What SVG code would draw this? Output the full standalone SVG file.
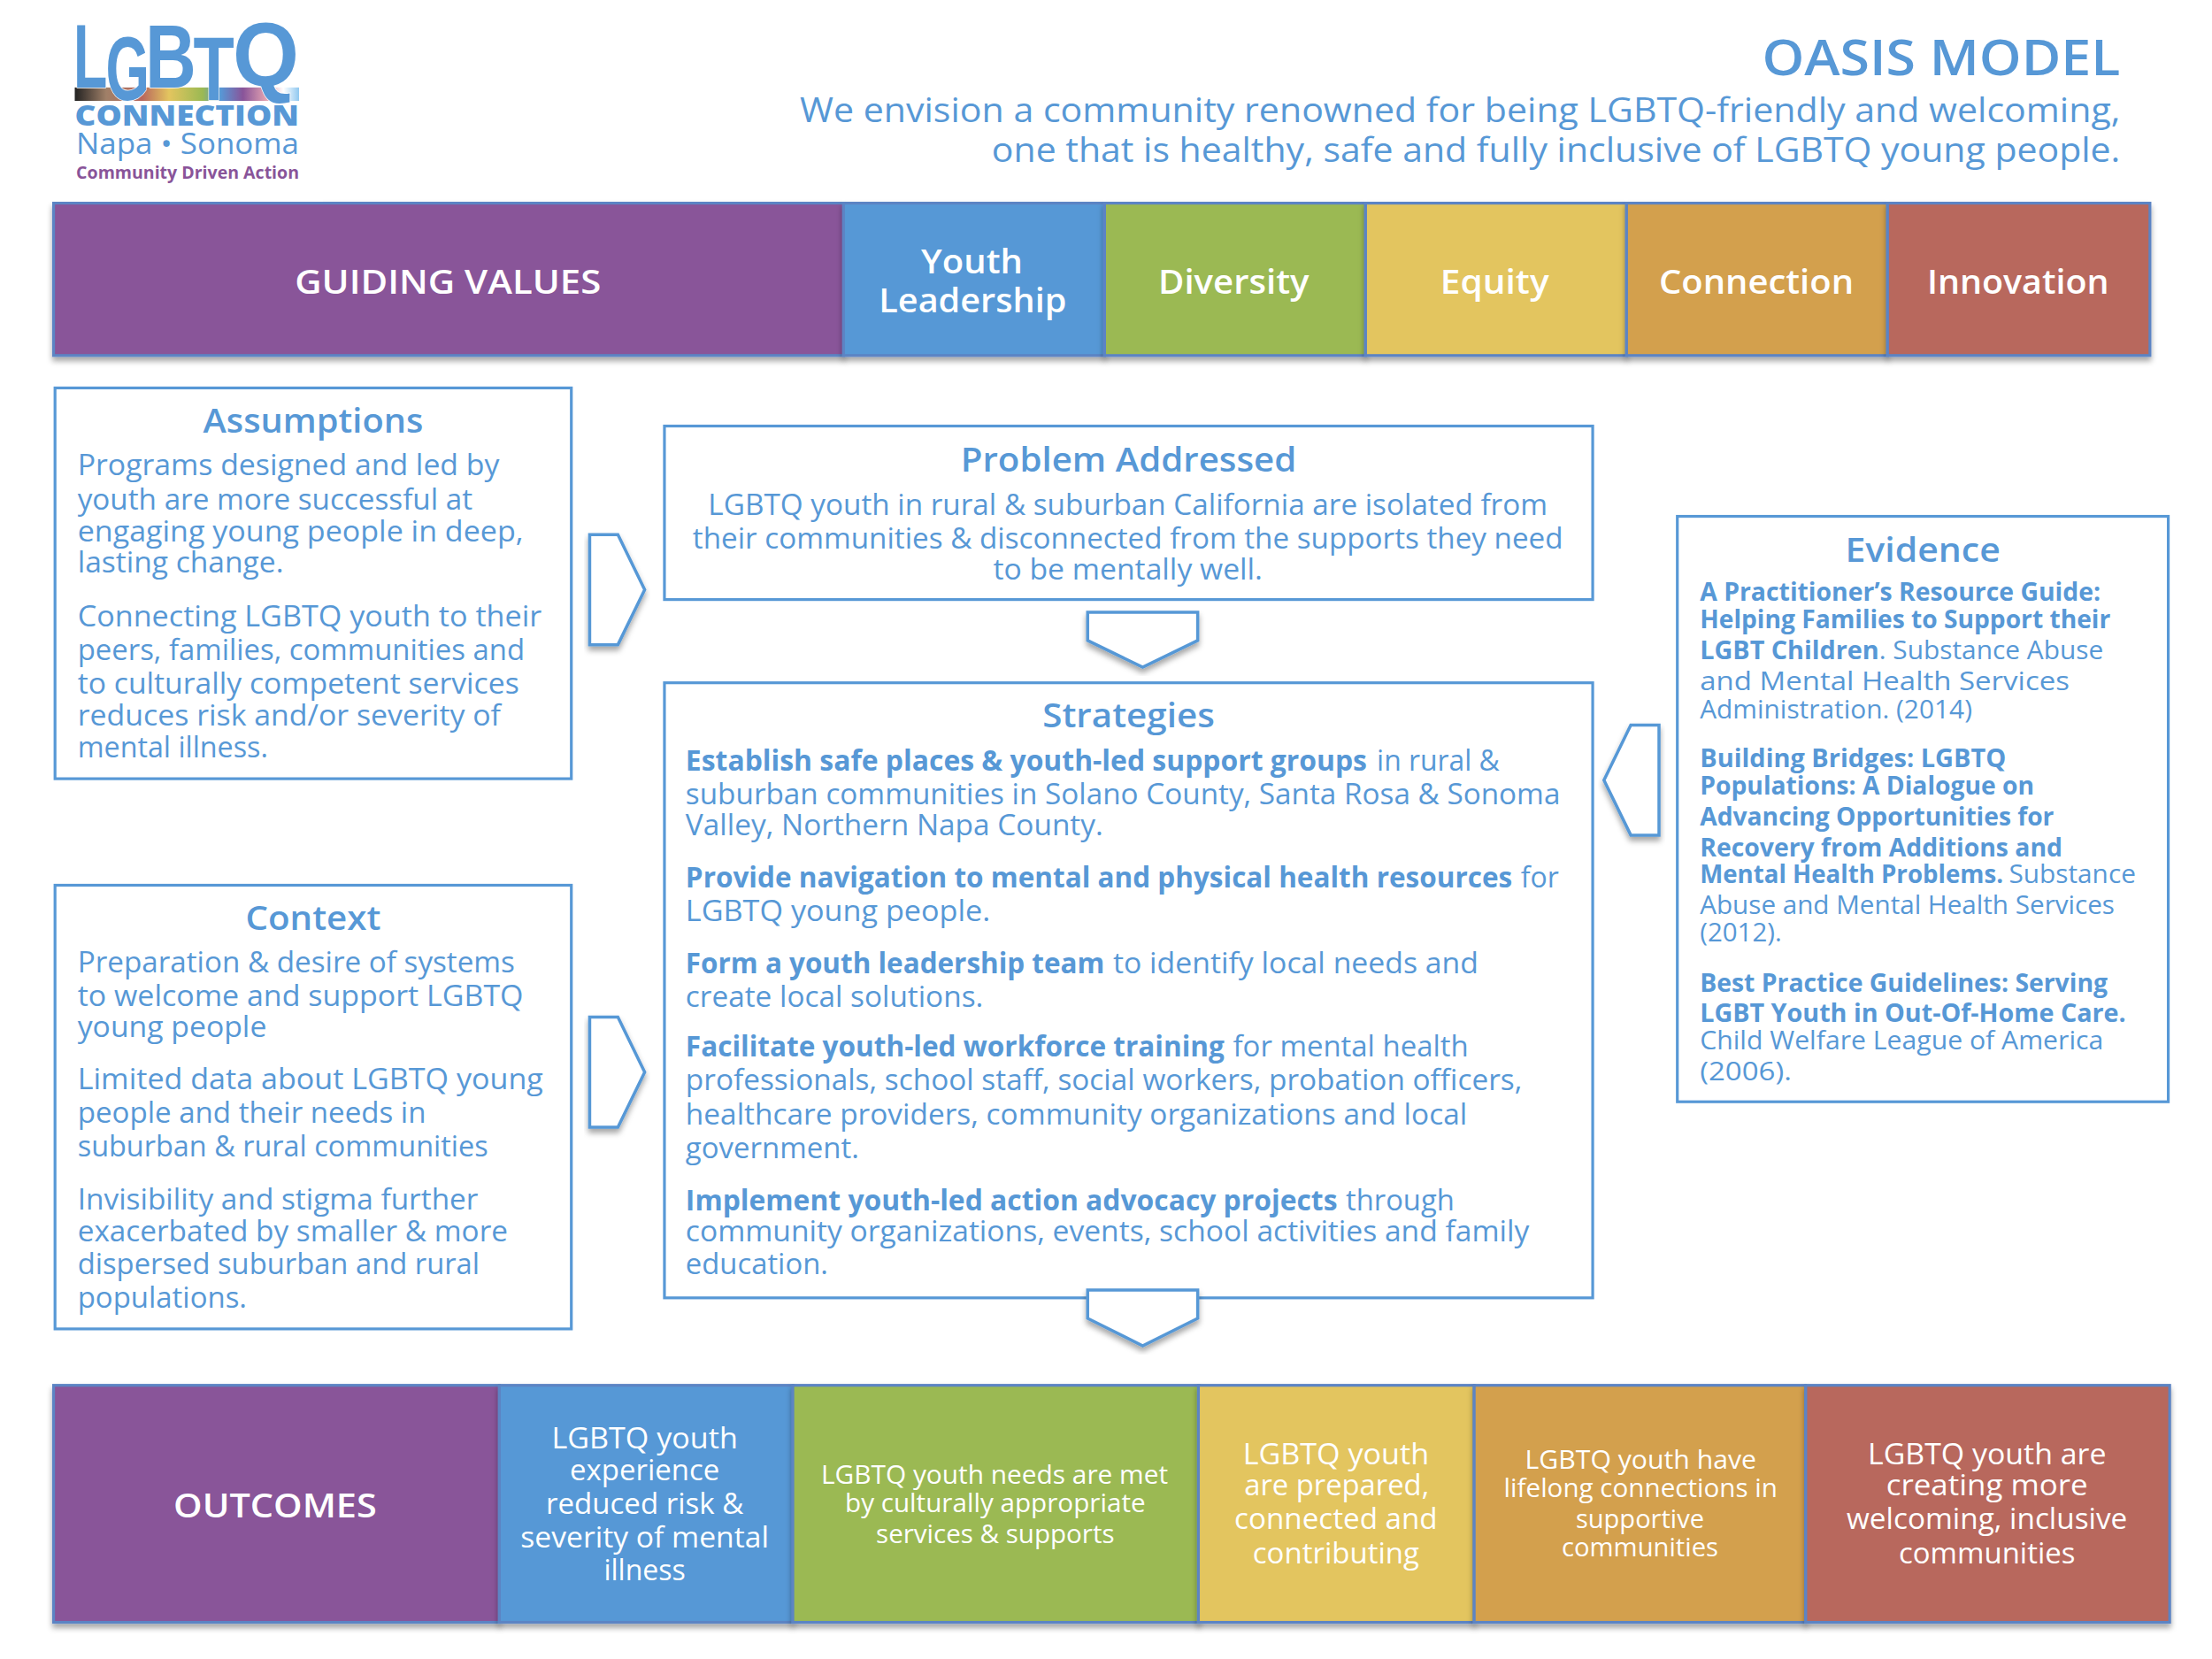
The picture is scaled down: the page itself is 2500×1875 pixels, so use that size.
<svg xmlns="http://www.w3.org/2000/svg" width="2500" height="1875" viewBox="0 0 2500 1875">
<defs>
<filter id="sh" x="-10%" y="-10%" width="120%" height="125%"><feDropShadow dx="0" dy="3" stdDeviation="2" flood-color="#000" flood-opacity=".35"/></filter>
<linearGradient id="rb" x1="0" x2="1" y1="0" y2="0">
<stop offset="0" stop-color="#222"/><stop offset=".14" stop-color="#a08068"/><stop offset=".3" stop-color="#b8675d"/><stop offset=".42" stop-color="#e3c55f"/><stop offset=".57" stop-color="#9bb953"/><stop offset=".65" stop-color="#5798d6"/><stop offset=".75" stop-color="#895499"/><stop offset=".85" stop-color="#e0a0b0"/><stop offset=".93" stop-color="#fff"/><stop offset="1" stop-color="#90c8f0"/>
</linearGradient>
</defs>
<style>
text{font-family:"Open Sans","Liberation Sans",sans-serif;fill:#5798d6;font-size:20.5px}
.b{font-weight:700}
.h{font-weight:600;font-size:23.5px}
.e{font-size:18px}
.w{fill:#fff;font-size:20.5px}
.wb{fill:#fff;font-weight:600;font-size:23.5px}
.box{fill:#fff;stroke:#5798d6;stroke-width:2}
.ar{fill:#fff;stroke:#5798d6;stroke-width:2.2;filter:url(#sh)}
.cell{stroke:#5b84c4;stroke-width:2;filter:url(#sh)}
</style>
<rect width="2500" height="1875" fill="#fff"/>
<g transform="scale(1.59439)">
<g id="guiding-values">
<rect class="cell" x="38" y="144" width="560" height="108" fill="#895499"/>
<rect class="cell" x="598" y="144" width="185" height="108" fill="#5798d6"/>
<rect class="cell" x="783" y="144" width="185" height="108" fill="#9bb953"/>
<rect class="cell" x="968" y="144" width="185" height="108" fill="#e3c55f"/>
<rect class="cell" x="1153" y="144" width="185" height="108" fill="#d3a04e"/>
<rect class="cell" x="1338" y="144" width="186" height="108" fill="#b8675d"/>
<text class="wb" x="209" y="208" textLength="217" lengthAdjust="spacingAndGlyphs">GUIDING VALUES</text>
<text class="wb" x="653" y="193.5" textLength="72" lengthAdjust="spacingAndGlyphs">Youth</text>
<text class="wb" x="623" y="221.7" textLength="133" lengthAdjust="spacingAndGlyphs">Leadership</text>
<text class="wb" x="821" y="208" textLength="107" lengthAdjust="spacingAndGlyphs">Diversity</text>
<text class="wb" x="1021" y="208" textLength="77" lengthAdjust="spacingAndGlyphs">Equity</text>
<text class="wb" x="1176" y="208" textLength="138" lengthAdjust="spacingAndGlyphs">Connection</text>
<text class="wb" x="1366" y="208" textLength="129" lengthAdjust="spacingAndGlyphs">Innovation</text>
</g>
<g id="logo">
<rect x="25" y="0" width="204" height="143" fill="#fff"/>
<rect x="53" y="62" width="159" height="9.5" fill="url(#rb)"/>
<text style="font-family:'Liberation Sans',sans-serif;font-size:64px;font-weight:700;paint-order:stroke;stroke:#fff;stroke-width:1"><tspan x="52" y="62" textLength="24" lengthAdjust="spacingAndGlyphs">L</tspan><tspan x="75" y="71" textLength="31" lengthAdjust="spacingAndGlyphs">G</tspan><tspan x="103" y="62" textLength="36" lengthAdjust="spacingAndGlyphs">B</tspan><tspan x="137" y="71" textLength="29" lengthAdjust="spacingAndGlyphs">T</tspan><tspan x="165" y="61" textLength="47" lengthAdjust="spacingAndGlyphs">Q</tspan></text>
<text x="53" y="89" style="font-size:19.5px;font-weight:800" textLength="159" lengthAdjust="spacingAndGlyphs">CONNECTION</text>
<text x="54" y="109" style="font-size:20px;font-weight:500" textLength="158" lengthAdjust="spacingAndGlyphs">Napa • Sonoma</text>
<text x="54" y="126.5" style="font-size:12px;font-weight:700;fill:#895499" textLength="158" lengthAdjust="spacingAndGlyphs">Community Driven Action</text>
</g>
<g id="title">
<text x="1249" y="53.5" style="font-size:35px;font-weight:600" textLength="254" lengthAdjust="spacingAndGlyphs">OASIS MODEL</text>
<text x="567" y="86.7" style="font-size:23.5px" textLength="936" lengthAdjust="spacingAndGlyphs">We envision a community renowned for being LGBTQ-friendly and welcoming,</text>
<text x="703" y="114.7" style="font-size:23.5px" textLength="800" lengthAdjust="spacingAndGlyphs">one that is healthy, safe and fully inclusive of LGBTQ young people.</text>
</g>
<g id="assumptions">
<rect class="box" x="39" y="275" width="366" height="277"/>
<text class="h" x="144" y="306.7" textLength="156" lengthAdjust="spacingAndGlyphs">Assumptions</text>
<text x="55" y="337" textLength="299" lengthAdjust="spacingAndGlyphs">Programs designed and led by</text>
<text x="55" y="361" textLength="280" lengthAdjust="spacingAndGlyphs">youth are more successful at</text>
<text x="55" y="384" textLength="316" lengthAdjust="spacingAndGlyphs">engaging young people in deep,</text>
<text x="55" y="406" textLength="146" lengthAdjust="spacingAndGlyphs">lasting change.</text>
<text x="55" y="444" textLength="329" lengthAdjust="spacingAndGlyphs">Connecting LGBTQ youth to their</text>
<text x="55" y="468" textLength="317" lengthAdjust="spacingAndGlyphs">peers, families, communities and</text>
<text x="55" y="492" textLength="313" lengthAdjust="spacingAndGlyphs">to culturally competent services</text>
<text x="55" y="514" textLength="300" lengthAdjust="spacingAndGlyphs">reduces risk and/or severity of</text>
<text x="55" y="537" textLength="135" lengthAdjust="spacingAndGlyphs">mental illness.</text>
</g>
<g id="context">
<rect class="box" x="39" y="627.5" width="366" height="314.5"/>
<text class="h" x="174" y="659" textLength="96" lengthAdjust="spacingAndGlyphs">Context</text>
<text x="55" y="689" textLength="310" lengthAdjust="spacingAndGlyphs">Preparation &amp; desire of systems</text>
<text x="55" y="713" textLength="316" lengthAdjust="spacingAndGlyphs">to welcome and support LGBTQ</text>
<text x="55" y="735" textLength="134" lengthAdjust="spacingAndGlyphs">young people</text>
<text x="55" y="772" textLength="330" lengthAdjust="spacingAndGlyphs">Limited data about LGBTQ young</text>
<text x="55" y="796" textLength="247" lengthAdjust="spacingAndGlyphs">people and their needs in</text>
<text x="55" y="820" textLength="291" lengthAdjust="spacingAndGlyphs">suburban &amp; rural communities</text>
<text x="55" y="857.5" textLength="284" lengthAdjust="spacingAndGlyphs">Invisibility and stigma further</text>
<text x="55" y="880" textLength="305" lengthAdjust="spacingAndGlyphs">exacerbated by smaller &amp; more</text>
<text x="55" y="903" textLength="285" lengthAdjust="spacingAndGlyphs">dispersed suburban and rural</text>
<text x="55" y="927" textLength="120" lengthAdjust="spacingAndGlyphs">populations.</text>
</g>
<g id="problem">
<rect class="box" x="471" y="302" width="658" height="123"/>
<text class="h" x="681" y="334" textLength="238" lengthAdjust="spacingAndGlyphs">Problem Addressed</text>
<text x="502" y="365" textLength="595" lengthAdjust="spacingAndGlyphs">LGBTQ youth in rural &amp; suburban California are isolated from</text>
<text x="491" y="389" textLength="617" lengthAdjust="spacingAndGlyphs">their communities &amp; disconnected from the supports they need</text>
<text x="704" y="411" textLength="191" lengthAdjust="spacingAndGlyphs">to be mentally well.</text>
</g>
<g id="strategies">
<rect class="box" x="471" y="484" width="658" height="436"/>
<text class="h" x="739" y="515.5" textLength="122" lengthAdjust="spacingAndGlyphs">Strategies</text>
<text class="b" x="486" y="546" textLength="483" lengthAdjust="spacingAndGlyphs">Establish safe places &amp; youth-led support groups</text>
<text x="976" y="546" textLength="87" lengthAdjust="spacingAndGlyphs">in rural &amp;</text>
<text x="486" y="570" textLength="620" lengthAdjust="spacingAndGlyphs">suburban communities in Solano County, Santa Rosa &amp; Sonoma</text>
<text x="486" y="592" textLength="296" lengthAdjust="spacingAndGlyphs">Valley, Northern Napa County.</text>
<text class="b" x="486" y="629" textLength="586" lengthAdjust="spacingAndGlyphs">Provide navigation to mental and physical health resources</text>
<text x="1078" y="629" textLength="27" lengthAdjust="spacingAndGlyphs">for</text>
<text x="486" y="653" textLength="216" lengthAdjust="spacingAndGlyphs">LGBTQ young people.</text>
<text class="b" x="486" y="690" textLength="297" lengthAdjust="spacingAndGlyphs">Form a youth leadership team</text>
<text x="789" y="690" textLength="259" lengthAdjust="spacingAndGlyphs">to identify local needs and</text>
<text x="486" y="714" textLength="211" lengthAdjust="spacingAndGlyphs">create local solutions.</text>
<text class="b" x="486" y="749" textLength="382" lengthAdjust="spacingAndGlyphs">Facilitate youth-led workforce training</text>
<text x="874" y="749" textLength="167" lengthAdjust="spacingAndGlyphs">for mental health</text>
<text x="486" y="773" textLength="593" lengthAdjust="spacingAndGlyphs">professionals, school staff, social workers, probation officers,</text>
<text x="486" y="797" textLength="554" lengthAdjust="spacingAndGlyphs">healthcare providers, community organizations and local</text>
<text x="486" y="821" textLength="123" lengthAdjust="spacingAndGlyphs">government.</text>
<text class="b" x="486" y="858" textLength="462" lengthAdjust="spacingAndGlyphs">Implement youth-led action advocacy projects</text>
<text x="954" y="858" textLength="77" lengthAdjust="spacingAndGlyphs">through</text>
<text x="486" y="880" textLength="598" lengthAdjust="spacingAndGlyphs">community organizations, events, school activities and family</text>
<text x="486" y="903" textLength="101" lengthAdjust="spacingAndGlyphs">education.</text>
</g>
<g id="evidence">
<rect class="box" x="1189" y="366" width="348" height="415"/>
<text class="h" x="1308" y="398" textLength="110" lengthAdjust="spacingAndGlyphs">Evidence</text>
<text class="e b" x="1205" y="426" textLength="284" lengthAdjust="spacingAndGlyphs">A Practitioner’s Resource Guide:</text>
<text class="e b" x="1205" y="445" textLength="291" lengthAdjust="spacingAndGlyphs">Helping Families to Support their</text>
<text class="e b" x="1205" y="467" textLength="127" lengthAdjust="spacingAndGlyphs">LGBT Children</text>
<text class="e" x="1332" y="467" textLength="159" lengthAdjust="spacingAndGlyphs">. Substance Abuse</text>
<text class="e" x="1205" y="489" textLength="262" lengthAdjust="spacingAndGlyphs">and Mental Health Services</text>
<text class="e" x="1205" y="509" textLength="193" lengthAdjust="spacingAndGlyphs">Administration. (2014)</text>
<text class="e b" x="1205" y="543.5" textLength="217" lengthAdjust="spacingAndGlyphs">Building Bridges: LGBTQ</text>
<text class="e b" x="1205" y="563" textLength="237" lengthAdjust="spacingAndGlyphs">Populations: A Dialogue on</text>
<text class="e b" x="1205" y="585" textLength="251" lengthAdjust="spacingAndGlyphs">Advancing Opportunities for</text>
<text class="e b" x="1205" y="607" textLength="257" lengthAdjust="spacingAndGlyphs">Recovery from Additions and</text>
<text class="e b" x="1205" y="626" textLength="215" lengthAdjust="spacingAndGlyphs">Mental Health Problems.</text>
<text class="e" x="1424" y="626" textLength="90" lengthAdjust="spacingAndGlyphs">Substance</text>
<text class="e" x="1205" y="648" textLength="294" lengthAdjust="spacingAndGlyphs">Abuse and Mental Health Services</text>
<text class="e" x="1205" y="667.5" textLength="58" lengthAdjust="spacingAndGlyphs">(2012).</text>
<text class="e b" x="1205" y="703" textLength="289" lengthAdjust="spacingAndGlyphs">Best Practice Guidelines: Serving</text>
<text class="e b" x="1205" y="724.5" textLength="302" lengthAdjust="spacingAndGlyphs">LGBT Youth in Out-Of-Home Care.</text>
<text class="e" x="1205" y="744" textLength="286" lengthAdjust="spacingAndGlyphs">Child Welfare League of America</text>
<text class="e" x="1205" y="765.5" textLength="65" lengthAdjust="spacingAndGlyphs">(2006).</text>
</g>
<g id="connectors">
<polygon class="ar" points="418,379 438,379 457,418 438,457 418,457"/>
<polygon class="ar" points="418,721 438,721 457,760 438,799 418,799"/>
<polygon class="ar" points="771,434 849,434 849,454 810,473 771,454"/>
<polygon class="ar" points="771,914.5 849,914.5 849,934.5 810,954 771,934.5"/>
<polygon class="ar" points="1176,514 1156,514 1137,553 1156,592 1176,592"/>
</g>
<g id="outcomes">
<rect class="cell" x="38" y="982" width="316" height="168" fill="#895499"/>
<rect class="cell" x="354" y="982" width="208" height="168" fill="#5798d6"/>
<rect class="cell" x="562" y="982" width="288" height="168" fill="#9bb953"/>
<rect class="cell" x="849.5" y="982" width="195.5" height="168" fill="#e3c55f"/>
<rect class="cell" x="1045" y="982" width="235" height="168" fill="#d3a04e"/>
<rect class="cell" x="1280" y="982" width="258" height="168" fill="#b8675d"/>
<text class="wb" x="123" y="1075.5" textLength="144" lengthAdjust="spacingAndGlyphs">OUTCOMES</text>
<text class="w" x="391" y="1027" textLength="132" lengthAdjust="spacingAndGlyphs">LGBTQ youth</text>
<text class="w" x="404" y="1049" textLength="106" lengthAdjust="spacingAndGlyphs">experience</text>
<text class="w" x="387" y="1073" textLength="140" lengthAdjust="spacingAndGlyphs">reduced risk &amp;</text>
<text class="w" x="369" y="1097" textLength="176" lengthAdjust="spacingAndGlyphs">severity of mental</text>
<text class="w" x="428" y="1120" textLength="58" lengthAdjust="spacingAndGlyphs">illness</text>
<text class="w" style="font-size:18px" x="582" y="1052" textLength="246" lengthAdjust="spacingAndGlyphs">LGBTQ youth needs are met</text>
<text class="w" style="font-size:18px" x="599" y="1072" textLength="213" lengthAdjust="spacingAndGlyphs">by culturally appropriate</text>
<text class="w" style="font-size:18px" x="621" y="1094" textLength="169" lengthAdjust="spacingAndGlyphs">services &amp; supports</text>
<text class="w" x="881" y="1038" textLength="132" lengthAdjust="spacingAndGlyphs">LGBTQ youth</text>
<text class="w" x="882" y="1060" textLength="131" lengthAdjust="spacingAndGlyphs">are prepared,</text>
<text class="w" x="875" y="1084" textLength="144" lengthAdjust="spacingAndGlyphs">connected and</text>
<text class="w" x="888" y="1108" textLength="118" lengthAdjust="spacingAndGlyphs">contributing</text>
<text class="w" style="font-size:18px" x="1081" y="1041" textLength="164" lengthAdjust="spacingAndGlyphs">LGBTQ youth have</text>
<text class="w" style="font-size:18px" x="1066" y="1061" textLength="194" lengthAdjust="spacingAndGlyphs">lifelong connections in</text>
<text class="w" style="font-size:18px" x="1117" y="1083" textLength="91" lengthAdjust="spacingAndGlyphs">supportive</text>
<text class="w" style="font-size:18px" x="1107" y="1103" textLength="111" lengthAdjust="spacingAndGlyphs">communities</text>
<text class="w" x="1324" y="1038" textLength="169" lengthAdjust="spacingAndGlyphs">LGBTQ youth are</text>
<text class="w" x="1337" y="1060" textLength="143" lengthAdjust="spacingAndGlyphs">creating more</text>
<text class="w" x="1309" y="1084" textLength="199" lengthAdjust="spacingAndGlyphs">welcoming, inclusive</text>
<text class="w" x="1346" y="1108" textLength="125" lengthAdjust="spacingAndGlyphs">communities</text>
</g>
</g>
</svg>
